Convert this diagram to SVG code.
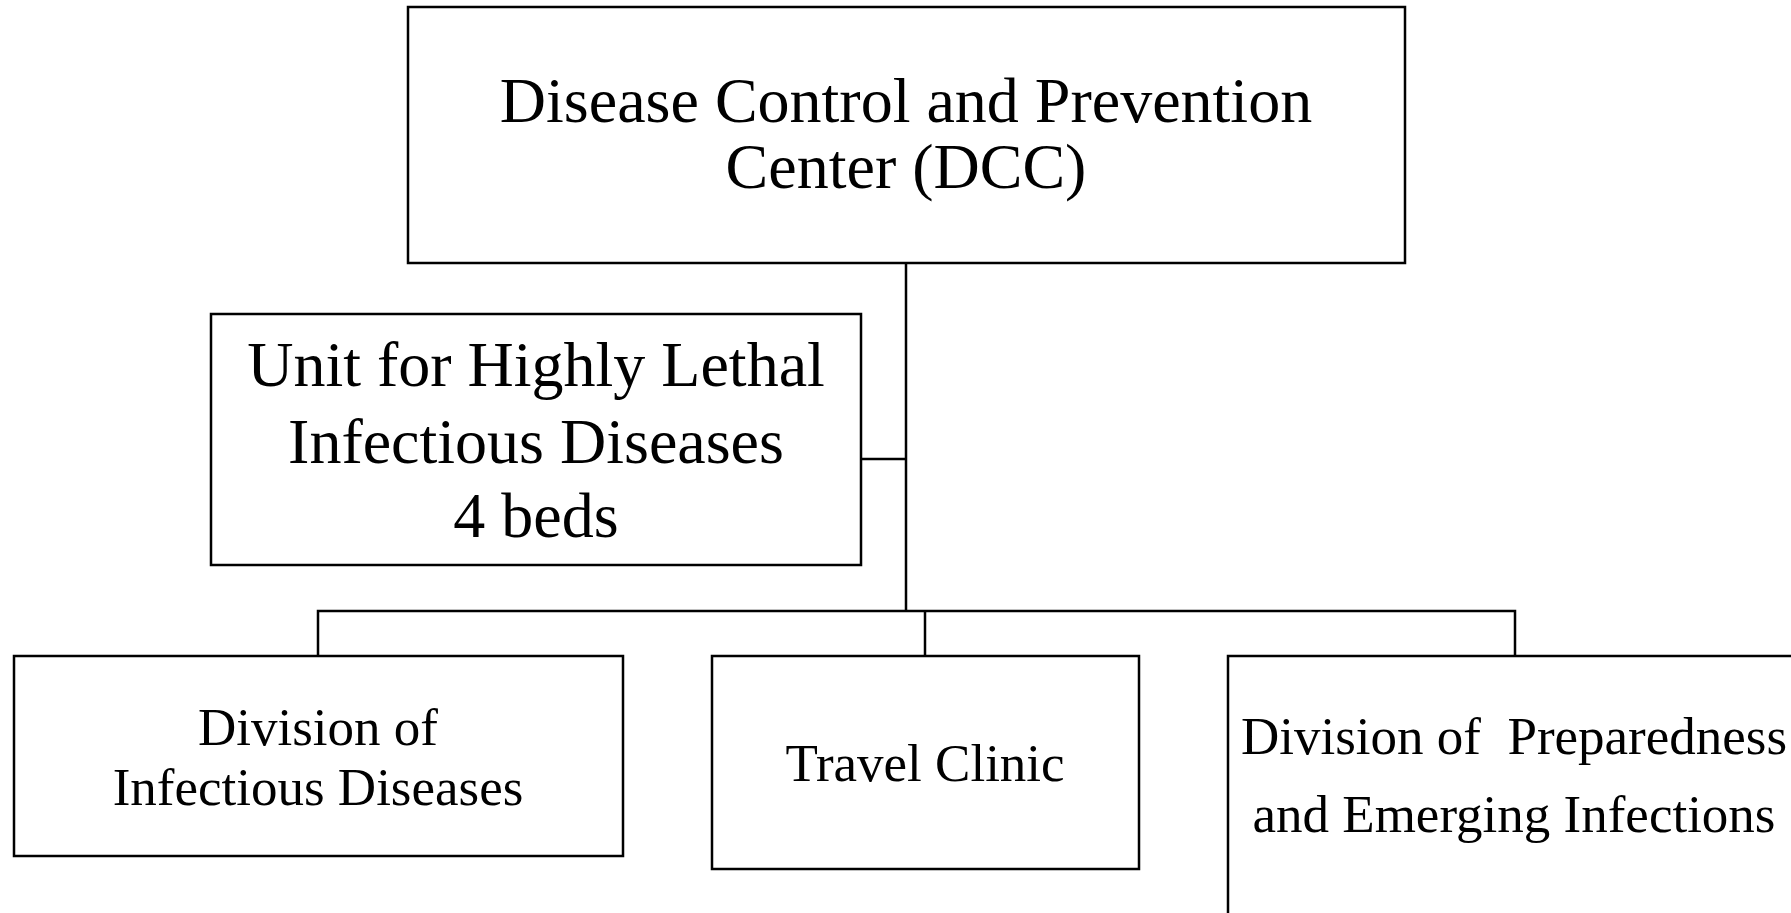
<svg xmlns="http://www.w3.org/2000/svg" width="1791" height="913" viewBox="0 0 1791 913">
<style>
.box{fill:#fff;stroke:#000;stroke-width:2.5}
.t{font-family:"Liberation Serif","Times New Roman",serif;fill:#000;text-anchor:middle}
.big{font-size:64px}
.med{font-size:53px}
.conn{fill:none;stroke:#000;stroke-width:2.5}
</style>
<rect width="1791" height="913" fill="#fff"/>
<g id="connectors">
<path class="conn" d="M906 263 V611"/>
<path class="conn" d="M861 459 H906"/>
<path class="conn" d="M318 656 V611 H1515 V656"/>
<path class="conn" d="M925 611 V656"/>
</g>
<g id="dcc">
<rect class="box" x="408" y="7" width="997" height="256"/>
<text class="t big" x="906" y="122">Disease Control and Prevention</text>
<text class="t big" x="906" y="188">Center (DCC)</text>
</g>
<g id="unit">
<rect class="box" x="211" y="314" width="650" height="251"/>
<text class="t big" x="536" y="386">Unit for Highly Lethal</text>
<text class="t big" x="536" y="463">Infectious Diseases</text>
<text class="t big" x="536" y="537">4 beds</text>
</g>
<g id="div-infectious">
<rect class="box" x="14" y="656" width="609" height="200"/>
<text class="t med" x="318" y="745">Division of</text>
<text class="t med" x="318" y="805">Infectious Diseases</text>
</g>
<g id="travel-clinic">
<rect class="box" x="712" y="656" width="427" height="213"/>
<text class="t med" x="925" y="781">Travel Clinic</text>
</g>
<g id="div-preparedness">
<rect class="box" x="1228" y="656" width="600" height="300"/>
<text class="t med" x="1514" y="754" xml:space="preserve">Division of  Preparedness</text>
<text class="t med" x="1514" y="832">and Emerging Infections</text>
</g>
</svg>
